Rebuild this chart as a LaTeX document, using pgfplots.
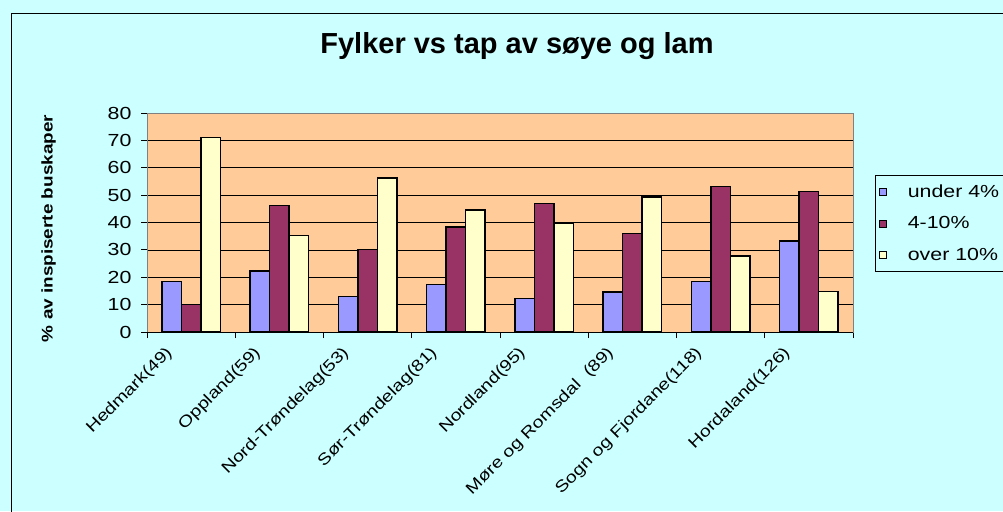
\documentclass[border=0pt]{standalone}
\usepackage{fontspec}
\usepackage{pgfplots}
\usepackage{pgfplotstable}
\pgfplotsset{compat=1.18}
\setmainfont{Liberation Sans}
\newfontfamily\wide{Liberation Sans}[FakeStretch=1.22]

\definecolor{chartbg}{HTML}{CCFFFF}
\definecolor{plotbg}{HTML}{FFCC99}
\definecolor{under}{HTML}{9999FF}
\definecolor{mid}{HTML}{993366}
\definecolor{over}{HTML}{FFFFCC}

% andel av inspiserte buskaper per fylke
\pgfplotstableread{
idx under mid over
0 18.5 10.0 71.0
1 22.2 46.3 35.3
2 12.9 30.2 56.2
3 17.3 38.4 44.5
4 12.2 46.9 39.6
5 14.7 35.9 49.3
6 18.4 53.1 27.8
7 33.3 51.4 14.8
}\fylker

\begin{document}
\begin{tikzpicture}
\useasboundingbox (0pt,0pt) rectangle (1003pt,511pt);
\fill[chartbg] (0pt,0pt) rectangle (1003pt,511pt);
\draw[line width=0.8pt] (11pt,-5pt) -- (11pt,498pt) -- (1010pt,498pt);

\begin{axis}[
    at={(147pt,179pt)}, anchor=south west,
    scale only axis, width=706pt, height=219pt,
    xmin=-0.5, xmax=7.5, ymin=0, ymax=80,
    axis background/.style={fill=plotbg},
    axis line style={draw=gray, line width=1pt},
    ybar=0pt, bar width=19.5pt,
    ytick={0,10,...,80},
    ymajorgrids, grid style={black, line width=0.7pt},
    xtick={-0.5,0.5,...,7.5}, xticklabels={},
    % labels end a little left of the group centre, as in the original
    extra x ticks={-0.3,0.7,1.7,2.7,3.7,4.7,5.7,6.7},
    extra x tick labels={Hedmark(49),Oppland(59),Nord-Trøndelag(53),Sør-Trøndelag(81),Nordland(95),Møre og Romsdal\ \ (89),Sogn og Fjordane(118),Hordaland(126)},
    extra x tick style={major tick length=0pt, grid=none,
        tick label style={rotate=45, anchor=north east, outer sep=6pt,
            font=\wide\fontsize{16}{19}\selectfont}},
    tick align=outside, major tick length=6pt,
    tick style={black, line width=0.8pt},
    xtick pos=bottom, ytick pos=left,
    /pgf/number format/assume math mode=true,
    yticklabel style={xshift=-6pt, font=\wide\fontsize{17.5}{21}\selectfont},
    legend style={at={(1.0312,0.717)}, anchor=north west, draw=black, fill=chartbg,
        line width=0.8pt, font=\wide\fontsize{17.5}{21}\selectfont,
        row sep=14pt, inner xsep=4pt, inner ysep=7pt},
    legend cell align=left,
    legend image code/.code={
        \draw[#1, draw=black, line width=0.8pt] (0pt,-3.5pt) rectangle (7pt,3.5pt);
        \path[draw=none, fill=none] (0pt,0pt) -- (26pt,0pt);},
]
\addplot[fill=under, draw=black, line width=1.5pt] table[x=idx, y=under] {\fylker};
\addplot[fill=mid, draw=black, line width=1.5pt] table[x=idx, y=mid] {\fylker};
\addplot[fill=over, draw=black, line width=1.5pt] table[x=idx, y=over] {\fylker};
\legend{\makebox[95pt][l]{under 4\%}, \makebox[95pt][l]{4-10\%}, \makebox[95pt][l]{over 10\%}}
\draw[black, line width=1pt] (rel axis cs:0,0) -- (rel axis cs:1,0);
\end{axis}

\node[font=\bfseries\fontsize{29}{34}\selectfont] at (517pt,465pt) {Fylker vs tap av søye og lam};
\node[rotate=90, font=\wide\bfseries\fontsize{15.5}{18}\selectfont] at (48.5pt,282.5pt) {\% av inspiserte buskaper};
\end{tikzpicture}
\end{document}
